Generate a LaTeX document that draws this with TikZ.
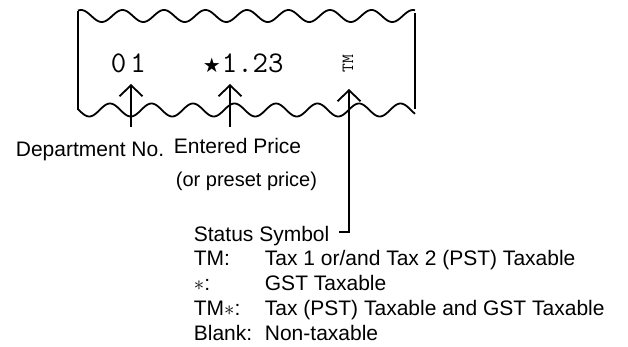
\documentclass[tikz,border=0pt]{standalone}
\usepackage{fontspec}
\setmainfont{Liberation Sans}
\newfontfamily\symfont{DejaVu Sans}
\usetikzlibrary{arrows.meta}
\begin{document}
\begin{tikzpicture}[x=1pt,y=-1pt,line width=1.8pt,
  lbl/.style={font=\fontsize{21}{25}\selectfont,inner sep=0pt,anchor=base west},
  rc/.style={font=\ttfamily\fontsize{30}{30}\selectfont,inner sep=0pt,anchor=base west},
  ptr/.style={-{Straight Barb[length=11pt,width=23pt,line width=1.8pt]}},
  wave/.style={line width=1.8pt,smooth}]
\useasboundingbox (0,0) rectangle (628,347);
% receipt
\draw[wave] plot[domain=78:415,samples=240] (\x,{16-6*cos(8.6747*(\x-81))});
\draw[wave] plot[domain=78:415,samples=240] (\x,{110-6.5*cos(8.6747*(\x-110))});
\draw (78,11) -- (78,110);
\draw (415,13) -- (415,109);
% receipt text
\node[rc] (dep) at (110,73) {0\kern4pt1};
\node[rc] (price) at (202,73) {{\symfont\fontsize{20}{20}\selectfont ★}\kern1pt1.23};
\node[inner sep=0pt,rotate=90,font=\ttfamily\fontsize{17}{17}\selectfont] (tm) at (348,64) {TM};
% arrows
\coordinate (a1s) at (131,127); \coordinate (a1t) at (131,84);
\coordinate (a2s) at (230,127); \coordinate (a2t) at (230,84);
\coordinate (a3t) at (349,89); \coordinate (hook) at (339,232);
\draw[ptr] (a1s) -- (a1t);
\draw[ptr] (a2s) -- (a2t);
\draw[ptr] (hook) -| (a3t);
% labels
\node[lbl] (dept) at (15,157) {Department No.};
\node[lbl] (entered) at (173,154) {Entered Price};
\node[lbl,font=\fontsize{20}{24}\selectfont] (preset) at (175,186) {(or preset price)};
\node[lbl] (status) at (193,241) {Status Symbol};
\node[lbl] (k1) at (193,265.5) {TM:};
\node[lbl] (d1) at (264,265.5) {Tax 1 or/and Tax 2 (PST) Taxable};
\node[lbl] (k2) at (193,290.5) {$\ast$:};
\node[lbl] (d2) at (264,290.5) {GST Taxable};
\node[lbl] (k3) at (193,315) {TM$\ast$:};
\node[lbl] (d3) at (264,315) {Tax (PST) Taxable and GST Taxable};
\node[lbl] (k4) at (193,340) {Blank:};
\node[lbl] (d4) at (264,340) {Non-taxable};
\end{tikzpicture}
\end{document}
